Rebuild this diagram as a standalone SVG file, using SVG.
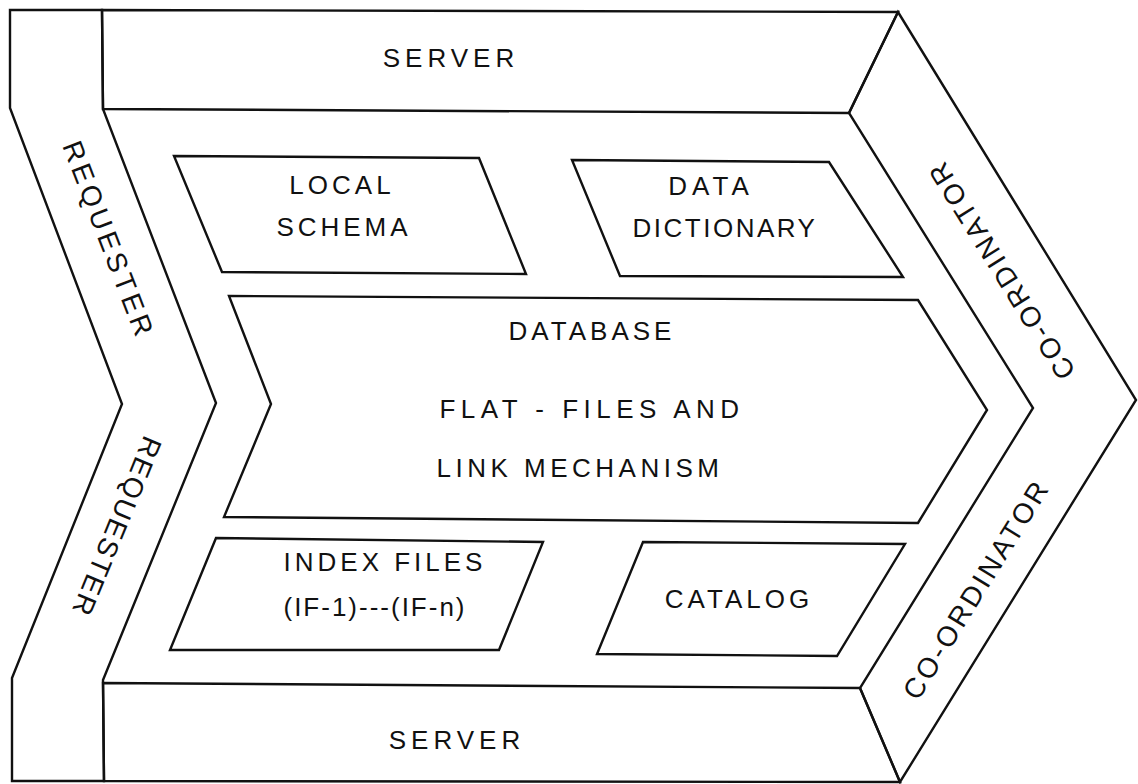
<svg xmlns="http://www.w3.org/2000/svg" width="1138" height="784" viewBox="0 0 1138 784">
  <style>
    .shape { fill: none; stroke: #111; stroke-width: 2.4; stroke-linejoin: miter; }
    .lbl { font-family: "Liberation Sans", Arial, sans-serif; font-size: 26px; fill: #111; text-anchor: middle; }
    .band { font-family: "Liberation Sans", Arial, sans-serif; font-size: 28px; fill: #111; text-anchor: middle; }
  </style>
  <rect x="0" y="0" width="1138" height="784" fill="#fff"/>

  <!-- outer frame bands -->
  <g id="requester">
    <polygon class="shape" points="10,10 102,10 103,109 216,403 103,680 104,781 12,781 12,678 122,404 10,108"/>
    <text class="band" letter-spacing="4" transform="translate(109,240) rotate(69)" dy="10">REQUESTER</text>
    <text class="band" letter-spacing="2" transform="translate(117,527) rotate(112.5)" dy="10">REQUESTER</text>
  </g>

  <g id="server-top">
    <polygon class="shape" points="102,10 898,12 849,113 103,109"/>
    <text class="lbl" letter-spacing="5" x="451" y="67">SERVER</text>
  </g>

  <g id="server-bottom">
    <polygon class="shape" points="103,683 860,688 900,782 104,781"/>
    <text class="lbl" letter-spacing="5" x="457" y="749">SERVER</text>
  </g>

  <g id="coordinator">
    <polygon class="shape" points="898,12 1136,400 900,782 860,688 1033,408 849,113"/>
    <text class="band" letter-spacing="3" transform="translate(1001,270) rotate(-122)" dy="10">CO-ORDINATOR</text>
    <text class="band" letter-spacing="3" transform="translate(976,589) rotate(-58.3)" dy="10">CO-ORDINATOR</text>
  </g>

  <!-- inner components -->
  <g id="local-schema">
    <polygon class="shape" points="174,156 479,158 526,274 222,272"/>
    <text class="lbl" letter-spacing="4" x="342" y="194">LOCAL</text>
    <text class="lbl" letter-spacing="4" x="344" y="236">SCHEMA</text>
  </g>

  <g id="data-dictionary">
    <polygon class="shape" points="572,160 829,162 903,277 620,276"/>
    <text class="lbl" letter-spacing="5" x="711" y="195">DATA</text>
    <text class="lbl" letter-spacing="2.5" x="725" y="237">DICTIONARY</text>
  </g>

  <g id="database">
    <polygon class="shape" points="229,296 918,300 987,410 918,523 224,517 271,404"/>
    <text class="lbl" letter-spacing="4" x="592" y="340">DATABASE</text>
    <text class="lbl" letter-spacing="5.5" x="592" y="418">FLAT - FILES AND</text>
    <text class="lbl" letter-spacing="4.5" x="580" y="477">LINK MECHANISM</text>
  </g>

  <g id="index-files">
    <polygon class="shape" points="216,538 543,542 499,650 170,650"/>
    <text class="lbl" letter-spacing="4" x="385" y="571">INDEX FILES</text>
    <text class="lbl" letter-spacing="2" x="375" y="616">(IF-1)---(IF-n)</text>
  </g>

  <g id="catalog">
    <polygon class="shape" points="643,542 905,544 837,656 597,654"/>
    <text class="lbl" letter-spacing="4" x="739" y="608">CATALOG</text>
  </g>

  <!-- no connectors in this figure -->
  <g id="connectors"></g>
</svg>
